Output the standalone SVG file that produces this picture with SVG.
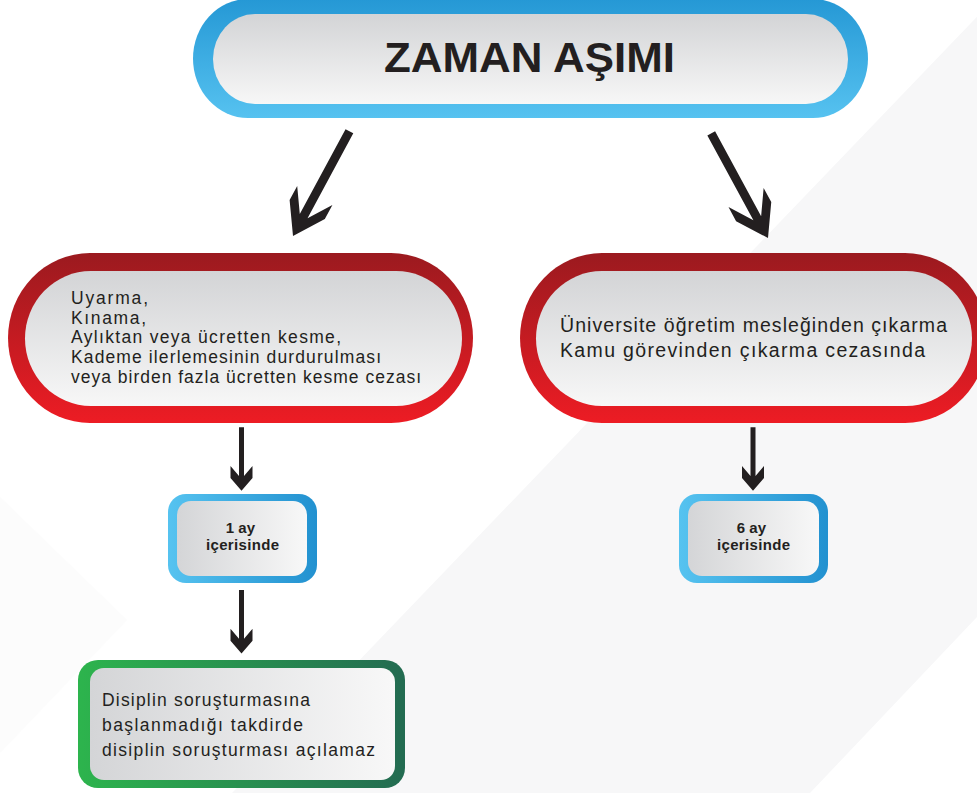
<svg xmlns="http://www.w3.org/2000/svg" xmlns:xlink="http://www.w3.org/1999/xlink" width="977" height="793" viewBox="0 0 977 793">
  <defs>
    <linearGradient id="gBlueV" x1="0" y1="0" x2="0" y2="1">
      <stop offset="0" stop-color="#2598d5"/>
      <stop offset="1" stop-color="#56c2f0"/>
    </linearGradient>
    <linearGradient id="gBlueH" x1="0" y1="0" x2="1" y2="0">
      <stop offset="0" stop-color="#56c3f0"/>
      <stop offset="1" stop-color="#2291d0"/>
    </linearGradient>
    <linearGradient id="gRed" x1="0" y1="0" x2="0" y2="1">
      <stop offset="0" stop-color="#9b1a1f"/>
      <stop offset="1" stop-color="#ed1c24"/>
    </linearGradient>
    <linearGradient id="gGreen" x1="0" y1="0" x2="1" y2="0">
      <stop offset="0" stop-color="#2db44d"/>
      <stop offset="1" stop-color="#236b51"/>
    </linearGradient>
    <linearGradient id="gGrayV" x1="0" y1="0" x2="0" y2="1">
      <stop offset="0" stop-color="#d3d4d6"/>
      <stop offset="1" stop-color="#f7f7f7"/>
    </linearGradient>
    <linearGradient id="gGrayH" x1="0" y1="0" x2="1" y2="0">
      <stop offset="0" stop-color="#d4d5d7"/>
      <stop offset="1" stop-color="#f8f8f8"/>
    </linearGradient>
    <path id="arrowV" d="M0,0 L-11,-12.7 L-11,-24.7 L-2.5,-14.8 L-2.5,-63.5 L2.5,-63.5 L2.5,-14.8 L11,-24.7 L11,-12.7 Z"/>
    <path id="arrowD" d="M0,0 L-20,-30 L-20,-46 L-4.4,-22.5 L-4.4,-119 L4.4,-119 L4.4,-22.5 L20,-46 L20,-30 Z"/>
  </defs>
  <style>
    .body { font-family: "Liberation Sans", Arial, sans-serif; fill: #231f20; }
    .title { font-family: "Liberation Sans", Arial, sans-serif; font-weight: bold; fill: #231f20; font-size: 42px; }
    .t17 { font-size: 17.5px; }
    .t19 { font-size: 19.5px; }
    .small { font-family: "Liberation Sans", Arial, sans-serif; font-weight: bold; font-size: 15px; fill: #231f20; text-anchor: middle; }
    .arrow { fill: #231f20; }
  </style>

  <!-- background -->
  <rect x="0" y="0" width="977" height="793" fill="#ffffff"/>
  <polygon points="0,497 127,620 0,753" fill="#fcfcfc"/>
  <polygon points="993,0 232,793 810,793 977,617 977,0" fill="#f7f7f8"/>

  <g id="connectors">
    <use xlink:href="#arrowD" class="arrow" transform="translate(293,236) rotate(28.3)"/>
    <use xlink:href="#arrowD" class="arrow" transform="translate(768,238) rotate(-28.5)"/>
    <use xlink:href="#arrowV" class="arrow" transform="translate(241.5,490.7)"/>
    <use xlink:href="#arrowV" class="arrow" transform="translate(241.5,653.5)"/>
    <use xlink:href="#arrowV" class="arrow" transform="translate(753,490.7)"/>
  </g>

  <g id="title">
    <rect x="193" y="-1" width="675" height="119" rx="55" ry="59.5" fill="url(#gBlueV)"/>
    <rect x="213" y="14" width="635" height="90" rx="42" ry="45" fill="url(#gGrayV)"/>
    <text class="title" x="384" y="72" textLength="291" lengthAdjust="spacingAndGlyphs">ZAMAN AŞIMI</text>
  </g>

  <g id="left-penalties">
    <rect x="8" y="253" width="465" height="170" rx="82" ry="85" fill="url(#gRed)"/>
    <rect x="25" y="271" width="437" height="135" rx="66" ry="67.5" fill="url(#gGrayV)"/>
    <text class="body t17">
      <tspan x="71" y="304" textLength="77" lengthAdjust="spacing">Uyarma,</tspan>
      <tspan x="71" y="324" textLength="75" lengthAdjust="spacing">Kınama,</tspan>
      <tspan x="71" y="343" textLength="270" lengthAdjust="spacing">Aylıktan veya ücretten kesme,</tspan>
      <tspan x="71" y="363" textLength="310" lengthAdjust="spacing">Kademe ilerlemesinin durdurulması</tspan>
      <tspan x="71" y="383" textLength="350" lengthAdjust="spacing">veya birden fazla ücretten kesme cezası</tspan>
    </text>
  </g>

  <g id="right-penalties">
    <rect x="520" y="253" width="467" height="170" rx="82" ry="85" fill="url(#gRed)"/>
    <rect x="536" y="271" width="436" height="135" rx="66" ry="67.5" fill="url(#gGrayV)"/>
    <text class="body t19">
      <tspan x="560" y="332" textLength="387" lengthAdjust="spacing">Üniversite öğretim mesleğinden çıkarma</tspan>
      <tspan x="560" y="357" textLength="365" lengthAdjust="spacing">Kamu görevinden çıkarma cezasında</tspan>
    </text>
  </g>

  <g id="one-month">
    <rect x="168" y="494" width="149" height="89" rx="18" fill="url(#gBlueH)"/>
    <rect x="177" y="501" width="130" height="75" rx="14" fill="url(#gGrayH)"/>
    <text class="small">
      <tspan x="242.5" y="533">1 ay</tspan>
      <tspan x="242.5" y="550" textLength="73" lengthAdjust="spacing">içerisinde</tspan>
    </text>
  </g>

  <g id="six-months">
    <rect x="679" y="494" width="149" height="89" rx="18" fill="url(#gBlueH)"/>
    <rect x="688" y="501" width="131" height="75" rx="14" fill="url(#gGrayH)"/>
    <text class="small">
      <tspan x="753.5" y="533">6 ay</tspan>
      <tspan x="753.5" y="550" textLength="73" lengthAdjust="spacing">içerisinde</tspan>
    </text>
  </g>

  <g id="result">
    <rect x="78" y="660" width="327" height="128" rx="20" fill="url(#gGreen)"/>
    <rect x="90" y="668" width="305" height="112" rx="14" fill="url(#gGrayH)"/>
    <text class="body t17">
      <tspan x="102" y="706" textLength="208" lengthAdjust="spacing">Disiplin soruşturmasına</tspan>
      <tspan x="102" y="731" textLength="201" lengthAdjust="spacing">başlanmadığı takdirde</tspan>
      <tspan x="102" y="756" textLength="273" lengthAdjust="spacing">disiplin soruşturması açılamaz</tspan>
    </text>
  </g>
</svg>
